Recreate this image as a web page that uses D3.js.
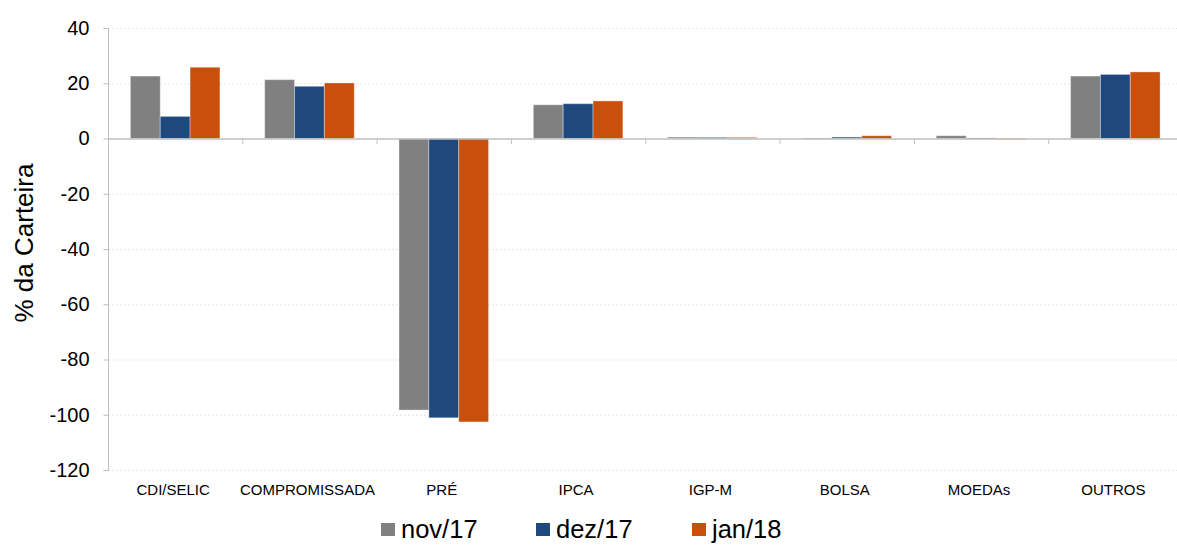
<!DOCTYPE html>
<html><head><meta charset="utf-8">
<script src="https://cdn.jsdelivr.net/npm/d3@7"></script>
<style>body{margin:0;background:#fff;}svg{display:block;font-family:"Liberation Sans",Arial,sans-serif;}</style>
</head><body>
<svg id="c" width="1177" height="548"></svg>
<script>
const categories = ["CDI/SELIC","COMPROMISSADA","PRÉ","IPCA","IGP-M","BOLSA","MOEDAs","OUTROS"];
const seriesNames = ["nov/17","dez/17","jan/18"];
const nov17 = [22.6, 21.3, -98.3, 12.2, 0.5, 0.1, 1.0, 22.6];
const dez17 = [8.0, 18.9, -101.1, 12.6, 0.4, 0.5, 0.2, 23.2];
const jan18 = [25.8, 20.1, -102.6, 13.6, 0.4, 1.0, -0.3, 24.1];
const yTicks = [40,20,0,-20,-40,-60,-80,-100,-120];
const colors = ["#808080","#1f497d","#c94f0c"];
const seriesValues = [nov17, dez17, jan18];

(function(){
const svg = d3.select("#c");
const pL = 108, pR = 1182.5, pT = 28, pB = 470;
const x = d3.scaleBand().domain(categories).range([pL, pR]).padding(0);
const xi = d3.scaleBand().domain(seriesNames).range([0, x.bandwidth()]).paddingOuter(0.75).paddingInner(0);
const y = d3.scaleLinear().domain([-120, 40]).range([pB, pT]);

// gridlines
svg.append("g").selectAll("line").data(yTicks.filter(d => d !== 0)).join("line")
  .attr("x1", pL).attr("x2", 1177).attr("y1", d => y(d)+0.5).attr("y2", d => y(d)+0.5)
  .attr("stroke", "#e6e6e6").attr("stroke-width", 1).attr("stroke-dasharray", "2,2");

// y axis
const yAxis = d3.axisLeft(y).tickValues(yTicks).tickSize(5).tickPadding(14).tickFormat(d => String(d));
const ya = svg.append("g").attr("transform", `translate(${pL+0.5},0)`).call(yAxis);
ya.select(".domain").attr("stroke", "#bfbfbf").attr("d", `M-5,${y(40)+0.5}H0V${y(-120)+0.5}H-5`);
ya.selectAll(".tick line").attr("stroke", "#bfbfbf");
ya.selectAll(".tick text").attr("font-size", 20).attr("fill", "#000").attr("font-family", "Liberation Sans, Arial, sans-serif");

// bars
const groups = svg.append("g").selectAll("g").data(categories).join("g")
  .attr("transform", d => `translate(${x(d)},0)`);
groups.selectAll("rect").data((c, i) => seriesNames.map((s, j) => ({s, v: seriesValues[j][i], j})))
  .join("rect")
  .attr("x", d => xi(d.s)).attr("width", xi.bandwidth())
  .attr("y", d => Math.min(y(d.v), y(0))).attr("height", d => Math.max(Math.abs(y(d.v) - y(0)), 0.8))
  .attr("fill", d => colors[d.j])
  .attr("stroke", "rgba(255,255,255,0.35)").attr("stroke-width", 1);

// x axis at zero
const xa = svg.append("g").attr("transform", `translate(0,${y(0)+0.5})`);
xa.append("line").attr("x1", pL).attr("x2", 1177).attr("stroke", "#bfbfbf").attr("stroke-width", 1.5);
xa.selectAll("line.tk").data(categories.slice(1)).join("line").attr("class","tk")
  .attr("x1", d => x(d)+0.5).attr("x2", d => x(d)+0.5).attr("y1", 0).attr("y2", 5).attr("stroke", "#bfbfbf");

// category labels
svg.append("g").selectAll("text").data(categories).join("text")
  .attr("x", d => x(d) + x.bandwidth()/2 - 2).attr("y", 495)
  .attr("text-anchor", "middle").attr("font-size", 15).attr("fill", "#000").text(d => d);

// y title
svg.append("text").attr("transform", `translate(33,243) rotate(-90)`)
  .attr("text-anchor", "middle").attr("font-size", 26).attr("fill", "#000").text("% da Carteira");

// legend
const legX = [381, 536, 692];
const leg = svg.append("g").selectAll("g").data(seriesNames).join("g")
  .attr("transform", (d, i) => `translate(${legX[i]},523)`);
leg.append("rect").attr("width", 14).attr("height", 13).attr("fill", (d, i) => colors[i]);
leg.append("text").attr("x", 20).attr("y", 15).attr("font-size", 25.5).attr("fill", "#000").text(d => d);
})();
</script>
</body></html>
